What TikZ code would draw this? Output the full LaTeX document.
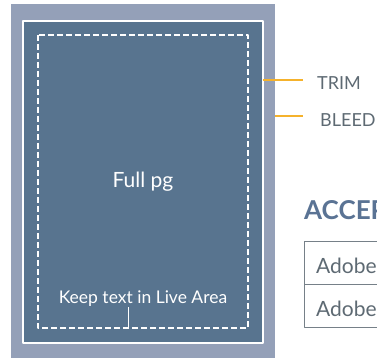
\documentclass[tikz,border=0pt]{standalone}
\usepackage{fontspec}
\setmainfont{Lato}
\usetikzlibrary{positioning}
\definecolor{bleedgray}{HTML}{94A0B8}
\definecolor{pageblue}{HTML}{58748F}
\definecolor{trimorange}{HTML}{F5B22C}
\definecolor{labelgray}{HTML}{5E6A73}
\definecolor{headblue}{HTML}{5A7394}
\tikzset{
  pagetext/.style={text=white, inner sep=0pt},
  sidelabel/.style={text=labelgray, font=\fontsize{18}{20}\selectfont, anchor=west, inner sep=0pt},
  guideline/.style={trimorange, line width=2pt},
  celltext/.style={text=labelgray, font=\fontsize{21}{23}\selectfont, anchor=west, inner sep=0pt}
}
\begin{document}
\begin{tikzpicture}[x=1pt,y=-1pt, line join=round]
  \useasboundingbox (0,0) rectangle (377,358);
  \clip (0,0) rectangle (377,358);
  % bleed, trim and live area
  \fill[bleedgray] (11,4) rectangle (275,358);
  \draw[white, line width=1.6pt, fill=pageblue] (23,21) rectangle (263,343);
  \draw[white, line width=1.3pt, dash pattern=on 6pt off 3pt] (38,35) rectangle (248,328);
  \node[pagetext, font=\fontsize{21}{23}\selectfont] (fullpg) at (143,182) {Full pg};
  \node[pagetext, font=\fontsize{17.5}{19}\selectfont] (keep) at (143,299) {Keep text in Live Area};
  \coordinate (tick) at (128,327);
  \draw[white, line width=0.6pt] (tick) -- (keep.south -| tick);
  % labels at the side
  \node[sidelabel] (trim) at (317,83) {TRIM};
  \node[sidelabel] (bleed) at (320,120) {BLEED};
  \coordinate (trimedge) at (263,80);
  \coordinate (bleededge) at (275,116);
  \draw[guideline] (trimedge) -- (trimedge -| 303,0);
  \draw[guideline] (bleededge) -- (bleededge -| 303,0);
  % table
  \node[text=headblue, font=\bfseries\fontsize{26}{28}\selectfont, anchor=west, inner sep=0pt] (accept) at (304,210) {ACCEP};
  \draw[labelgray!85, line width=0.8pt] (400,241) -- (304,241) -- (304,327) -- (400,327)
    (304,284) -- (400,284);
  \node[celltext] (row1) at (316,266) {Adobe};
  \node[celltext] (row2) at (316,309) {Adobe};
\end{tikzpicture}
\end{document}
